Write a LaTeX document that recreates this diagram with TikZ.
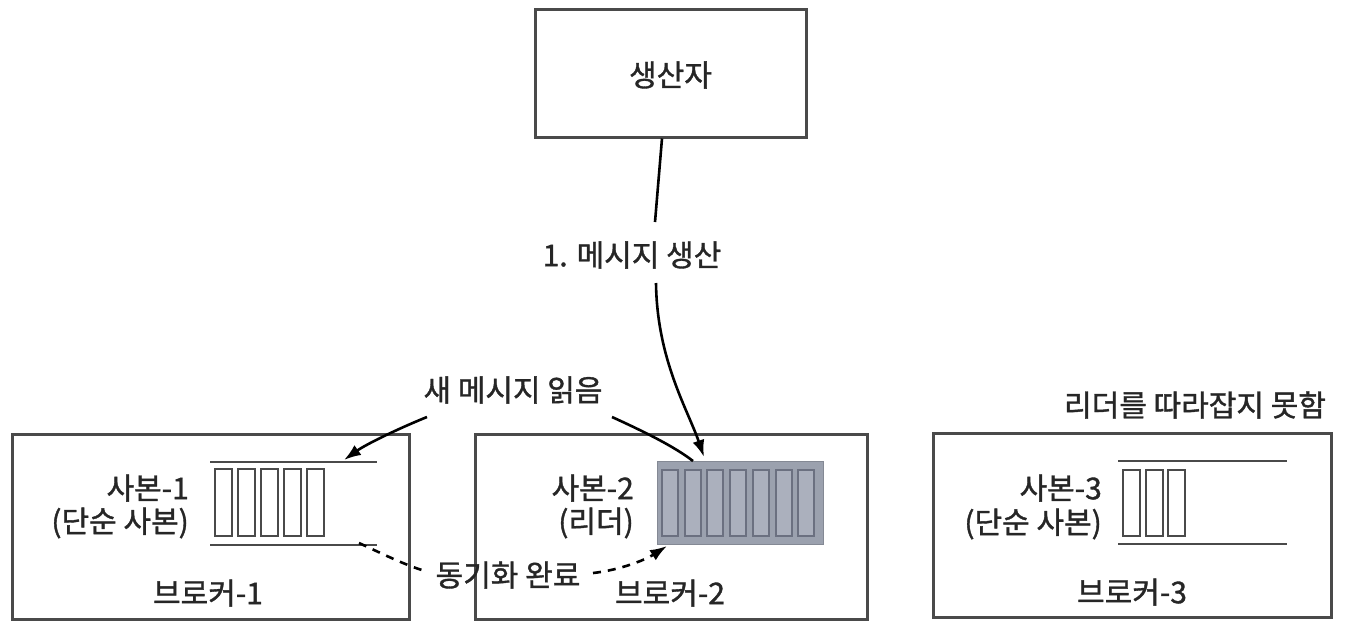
\documentclass[tikz,border=0pt]{standalone}
\usepackage{fontspec}
\setmainfont{Noto Sans CJK KR}[FakeBold=1.2]
\usetikzlibrary{arrows.meta}
\definecolor{boxline}{HTML}{4A4A4A}
\definecolor{barfill}{HTML}{9BA1AE}
\definecolor{cellfill}{HTML}{ABB0BD}
\definecolor{celldraw}{HTML}{6B7080}
\tikzset{
  box/.style={draw=boxline, line width=3pt, rectangle, inner sep=0pt},
  lbl/.style={inner sep=0pt, font=\fontsize{30}{34}\selectfont, text=black!85},
  logline/.style={draw=boxline, line width=2.3pt},
  cell/.style={draw=boxline, line width=2pt, fill=white},
  lcell/.style={draw=celldraw, line width=2pt, fill=cellfill},
  tipA/.style={-{Latex[length=17pt,width=12pt]}},
  arr/.style={line width=2.6pt, tipA},
  plain/.style={line width=2.6pt},
  dashln/.style={line width=2.6pt, dash pattern=on 8pt off 7pt},
}
\begin{document}
\begin{tikzpicture}[x=1pt,y=-1pt]
\useasboundingbox (0,0) rectangle (1346,630);
% producer
\node[box, minimum width=271pt, minimum height=128pt] (prod) at (670.5,73) {};
\node[lbl] (prodt) at (670.5,75) {생산자};
% brokers
\node[box, minimum width=397pt, minimum height=185pt] (b1) at (210.5,526.5) {};
\node[box, minimum width=392pt, minimum height=185pt] (b2) at (671,526.5) {};
\node[box, minimum width=398pt, minimum height=184pt] (b3) at (1132,525) {};
% broker 1 contents
\draw[logline] (210,462) -- (377,462);
\draw[logline] (210,545) -- (377,545);
\foreach \i in {0,...,4} {
  \draw[cell] ({215+23*\i},469) rectangle ({232+23*\i},536);
}
\node[lbl, anchor=east] (r1a) at (189,488) {사본-1};
\node[lbl, anchor=east] (r1b) at (189,523) {(단순 사본)};
\node[lbl] (b1t) at (208,593) {브로커-1};
% broker 2 contents
\draw[draw=barfill!85!black, line width=1pt, fill=barfill] (657,461) rectangle (823,544);
\foreach \i in {0,...,6} {
  \draw[lcell] ({662+22.7*\i},470) rectangle ({678+22.7*\i},536);
}
\node[lbl, anchor=east] (r2a) at (634,488) {사본-2};
\node[lbl, anchor=east] (r2b) at (634,523) {(리더)};
\node[lbl] (b2t) at (670,593) {브로커-2};
% broker 3 contents
\draw[logline] (1118,461) -- (1287,461);
\draw[logline] (1118,544) -- (1287,544);
\foreach \i in {0,...,2} {
  \draw[cell] ({1123+22.5*\i},470) rectangle ({1140+22.5*\i},536);
}
\node[lbl, anchor=east] (r3a) at (1102,488) {사본-3};
\node[lbl, anchor=east] (r3b) at (1102,524) {(단순 사본)};
\node[lbl] (b3t) at (1132,592) {브로커-3};
\node[lbl] (lag) at (1195,405) {리더를 따라잡지 못함};
% produce arrow
\node[lbl] (msg) at (632,255) {1. 메시지 생산};
\coordinate (tip2) at (704,457);
\draw[plain] (prod.south -| 662,0) -- (655,222);
\draw[arr] (656,283) .. controls (657,360) and (688,410) .. (tip2);
% read
\node[lbl] (read) at (513,390) {새 메시지 읽음};
\coordinate (r1tip) at (344,460);
\coordinate (r2end) at (693,461);
\draw[arr] (427,417) .. controls (395,430) and (365,445) .. (r1tip);
\draw[plain] (612,417) .. controls (645,432) and (675,447) .. (r2end);
% sync
\node[lbl] (sync) at (508,575) {동기화 완료};
\coordinate (s1) at (359,543);
\coordinate (s2tip) at (667,546);
\draw[dashln] (s1) .. controls (385,555) and (405,565) .. (425,571);
\draw[dashln, tipA] (593,573) .. controls (620,570) and (645,560) .. (s2tip);
\end{tikzpicture}
\end{document}
